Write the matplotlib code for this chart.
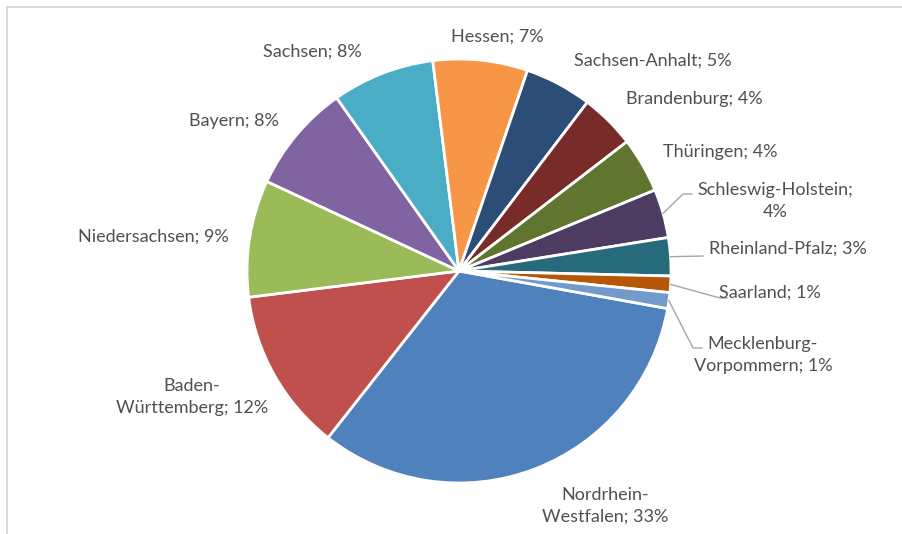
import numpy as np
import matplotlib
matplotlib.use("Agg")
import matplotlib.pyplot as plt

# Data (share of each state)
states = ["Nordrhein-\nWestfalen", "Baden-\nWürttemberg", "Niedersachsen", "Bayern",
          "Sachsen", "Hessen", "Sachsen-Anhalt", "Brandenburg", "Thüringen",
          "Schleswig-Holstein;\n", "Rheinland-Pfalz", "Saarland", "Mecklenburg-\nVorpommern"]
values = [32.7, 12.4, 8.9, 8.25, 7.8, 7.2, 5.1, 4.2, 4.2, 3.7, 2.9, 1.25, 1.2]
colors = ["#4F81BD", "#C0504D", "#9BBB59", "#8064A2", "#4BACC6", "#F79646", "#2C4D75",
          "#772C2A", "#5F7530", "#4D3B62", "#276A7C", "#B65708", "#729ACA"]

# label centres in pixel coords (x, y from top)
label_pos = [(605, 506), (192, 397), (153, 237), (234, 121), (312, 52), (497, 37),
             (653, 61), (694, 99), (720, 152), (775, 201), (788, 249), (770, 293), (763, 355)]
# leader line end points (pixel coords) for the small slices
leaders = {9: [(683, 194), (692, 194)], 10: [(703, 256)], 11: [(720, 298), (727, 298)],
           12: [(693, 348), (702, 348)]}

W, H = 903, 534
fig = plt.figure(figsize=(W / 100, H / 100), dpi=100)
ax = fig.add_axes([0, 0, 1, 1])

cx, cy, r = 459, H - 271, 212
start = -10.2
wedges, _ = ax.pie(values, colors=colors, startangle=start, counterclock=False,
                   center=(cx, cy), radius=r, frame=True,
                   wedgeprops=dict(edgecolor="white", linewidth=2))
ax.set_xlim(0, W)
ax.set_ylim(0, H)
ax.axis("off")

total = sum(values)
for i, (name, (lx, ly)) in enumerate(zip(states, label_pos)):
    pct = round(values[i] / total * 100)
    if name.endswith("\n"):
        txt = f"{name}{pct}%"
    else:
        txt = f"{name}; {pct}%"
    ax.text(lx, H - ly, txt, ha="center", va="center", fontsize=13,
            color="#505050", family="Lato", linespacing=1.45)

for i, pts in leaders.items():
    w = wedges[i]
    mid = np.deg2rad((w.theta1 + w.theta2) / 2)
    x0 = cx + r * np.cos(mid)
    y0 = cy + r * np.sin(mid)
    xs = [x0] + [p[0] for p in pts]
    ys = [y0] + [H - p[1] for p in pts]
    ax.plot(xs, ys, color="#A6A6A6", lw=1)

# chart area border (cropped at right and bottom)
ax.plot([7.5, 7.5, W], [0, H - 6.5, H - 6.5], color="#D9D9D9", lw=1.5)

fig.savefig("out.png", dpi=100)
